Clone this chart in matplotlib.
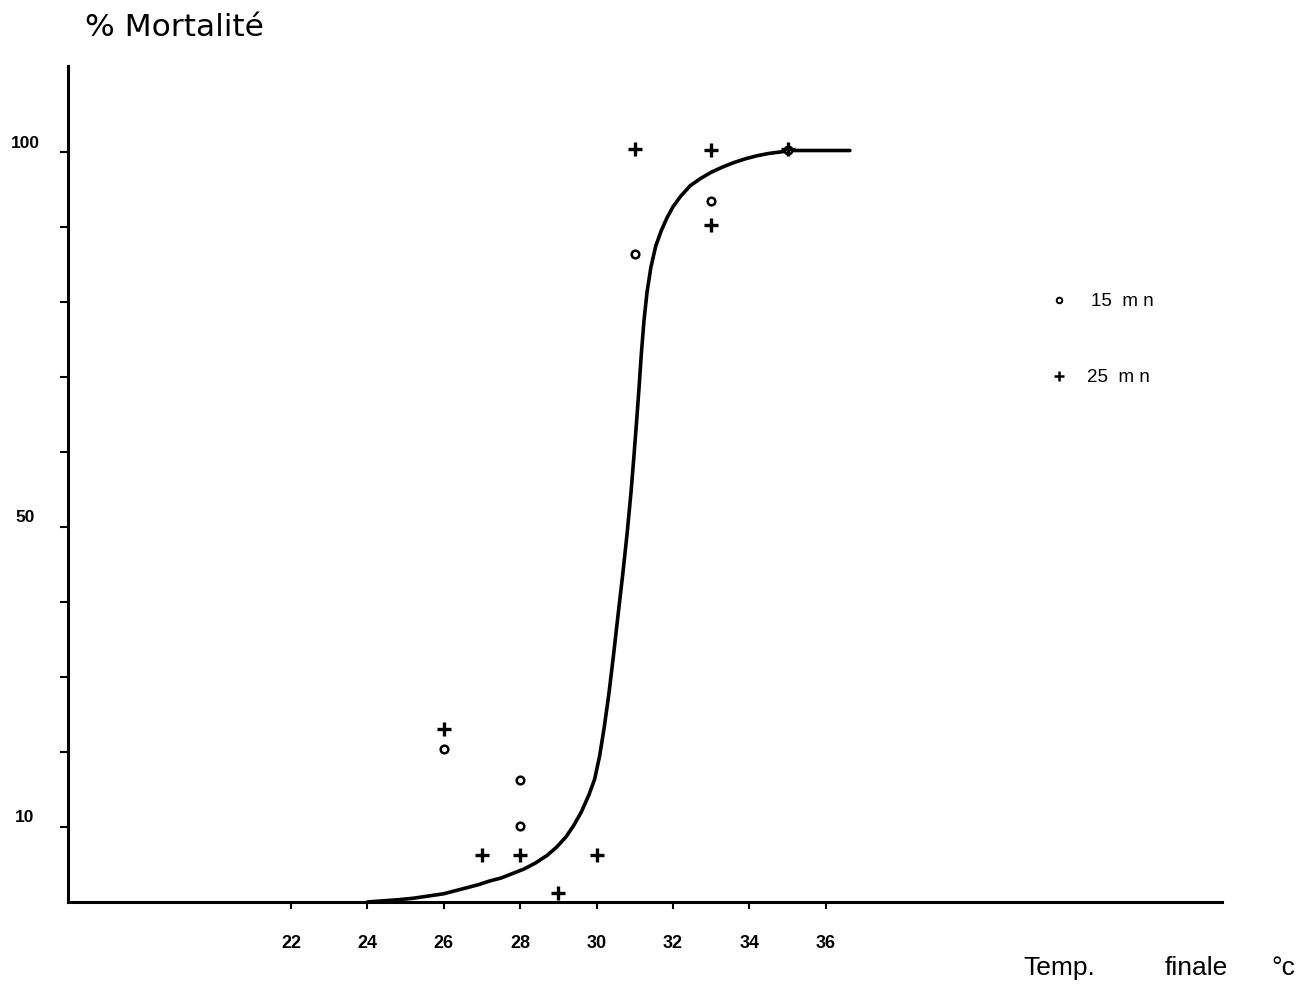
import matplotlib
matplotlib.use("Agg")
import matplotlib.pyplot as plt
import matplotlib.transforms as mtransforms

plt.rcParams['font.family'] = ['Liberation Sans', 'DejaVu Sans']

# Data
x_ticks = [22, 24, 26, 28, 30, 32, 34, 36]
y_ticks = [10, 20, 30, 40, 50, 60, 70, 80, 90, 100]
y_labels = {100: "100", 50: "50", 10: "10"}

# 15 mn (dots)
x15 = [26, 28, 28, 31, 33, 35]
y15 = [20.4, 16.3, 10.1, 86.4, 93.5, 100.3]
# 25 mn (plus)
x25 = [26, 27, 28, 29, 30, 31, 33, 33, 35]
y25 = [23.1, 6.3, 6.3, 1.2, 6.3, 100.4, 100.3, 90.3, 100.4]

# fitted curve (traced)
curve_x = [24.0, 24.4, 24.8, 25.2, 25.6, 26.0, 26.3, 26.6, 26.9, 27.2, 27.5,
           27.8, 28.1, 28.4, 28.7, 28.95, 29.2, 29.4, 29.6, 29.8, 29.95,
           30.08, 30.2, 30.32, 30.44, 30.56, 30.68, 30.8, 30.9, 30.98, 31.05,
           31.11, 31.17, 31.24, 31.32, 31.42, 31.55, 31.7, 31.85, 32.0, 32.2,
           32.45, 32.7, 33.0, 33.3, 33.6, 33.9, 34.2, 34.5, 34.8, 35.1, 36.0,
           36.63]
curve_y = [0.0, 0.15, 0.3, 0.5, 0.8, 1.1, 1.5, 1.9, 2.3, 2.8, 3.2,
           3.8, 4.4, 5.2, 6.2, 7.3, 8.7, 10.2, 12.0, 14.3, 16.4,
           19.5, 23.3, 27.7, 32.8, 38.2, 43.5, 49.2, 54.6, 59.6, 64.3,
           68.5, 73.0, 77.5, 81.3, 84.6, 87.5, 89.6, 91.3, 92.7, 94.1,
           95.5, 96.4, 97.3, 98.0, 98.6, 99.1, 99.5, 99.8, 100.0, 100.2, 100.2,
           100.2]

legend_labels = ["15  m n", "25  m n"]

W, H = 1303, 986
fig = plt.figure(figsize=(W / 100, H / 100), dpi=100)
ax = fig.add_axes([68 / W, (H - 902) / H, (1222 - 68) / W, (902 - 66) / H])

ax.set_xlim(22 - (291 - 68) / 38.2, 22 + (1222 - 291) / 38.2)
ax.set_ylim(0, (902 - 66) / 7.5)

for s in ['top', 'right']:
    ax.spines[s].set_visible(False)
for s in ['left', 'bottom']:
    ax.spines[s].set_linewidth(2.2)
    ax.spines[s].set_color('black')

ax.plot(curve_x, curve_y, color='black', lw=2.6, solid_capstyle='round',
        solid_joinstyle='round', zorder=3)
ax.plot(x15, y15, linestyle='none', marker='o', ms=5.5, mfc='white', mec='black', mew=1.8, zorder=4)
ax.plot(x25, y25, linestyle='none', marker='+', ms=10, mec='black', mew=2.4, zorder=4)

ax.set_xticks(x_ticks)
ax.set_xticklabels([str(v) for v in x_ticks], fontsize=13, fontweight='bold')
ax.tick_params(axis='x', direction='out', length=5, width=1.5, pad=19)
ax.set_yticks(y_ticks)
ax.set_yticklabels([])
ax.tick_params(axis='y', direction='out', length=6, width=1.5)

trans = mtransforms.blended_transform_factory(fig.transFigure, ax.transData)
for v, lab in y_labels.items():
    ax.text(25 / W, v + 1.2, lab, transform=trans, ha='center', va='center',
            fontsize=12.5, fontweight='bold')

# legend
leg_x = 22 + (1059 - 291) / 38.2
ax.plot([leg_x], [(902 - 300) / 7.5], linestyle='none',
        marker='o', ms=4, mfc='white', mec='black', mew=1.4, clip_on=False)
ax.plot([leg_x], [(902 - 376) / 7.5], linestyle='none',
        marker='+', ms=7, mec='black', mew=1.8, clip_on=False)
fig.text(1091 / W, 1 - 301 / H, legend_labels[0], fontsize=13.5, ha='left', va='center')
fig.text(1087 / W, 1 - 377 / H, legend_labels[1], fontsize=13.5, ha='left', va='center')

fig.text(85 / W, 1 - 28 / H, "% Mortalité", fontsize=22.5, ha='left', va='center',
         family='DejaVu Sans')
fig.text(1023 / W, 1 - 968 / H, "Temp.", fontsize=19, ha='left', va='center')
fig.text(1165 / W, 1 - 968 / H, "finale", fontsize=19, ha='left', va='center')
fig.text(1295 / W, 1 - 968 / H, "°c", fontsize=19, ha='right', va='center')

fig.savefig("out.png", dpi=100)
